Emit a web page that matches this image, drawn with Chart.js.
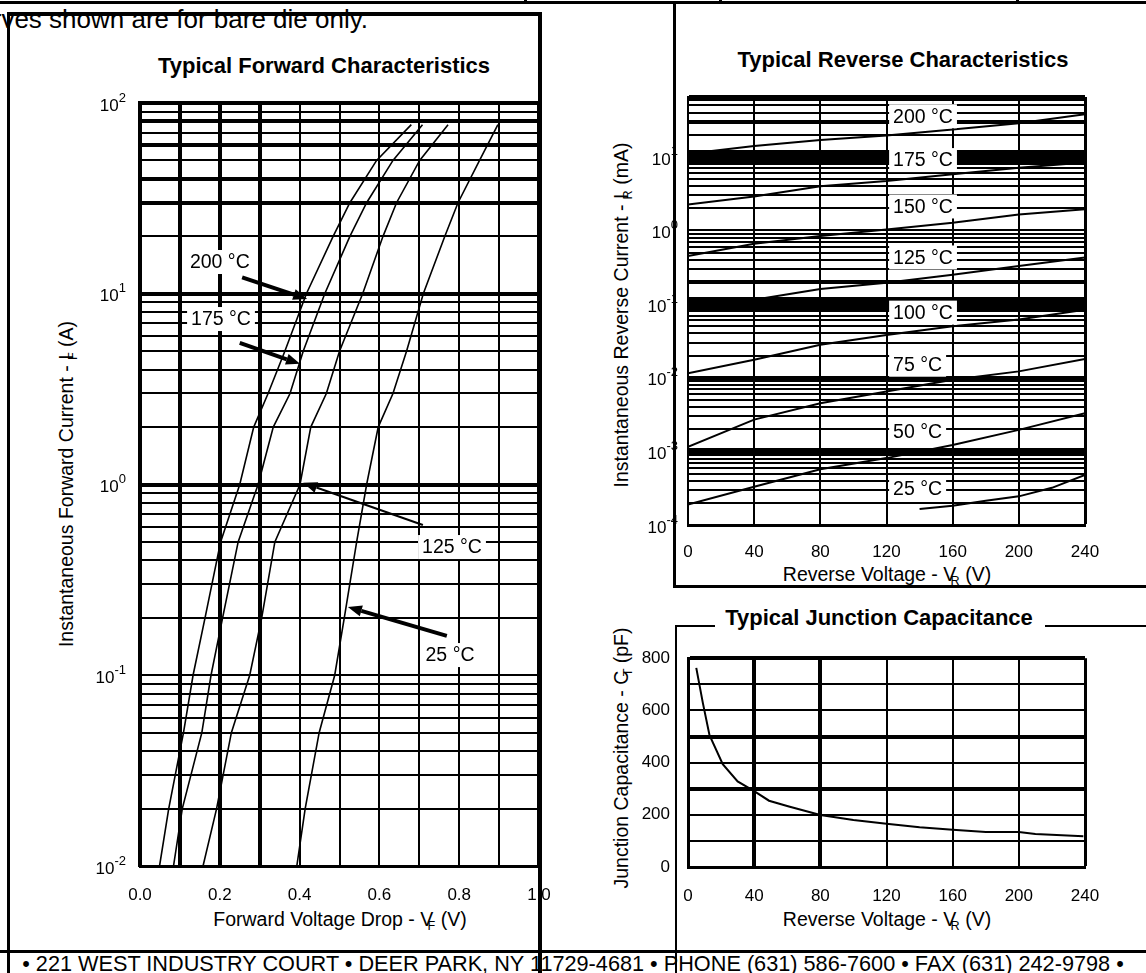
<!DOCTYPE html>
<html>
<head>
<meta charset="utf-8">
<script src="https://cdn.jsdelivr.net/npm/chart.js@4.4.1/dist/chart.umd.min.js"></script>
<style>
body{margin:0;background:#fff;width:1146px;height:973px;overflow:hidden;position:relative;font-family:"Liberation Sans",Arial,sans-serif;color:#000}
.ln{position:absolute;background:#000}
.t{position:absolute;white-space:nowrap;font-size:19.5px;line-height:1}
.ttl{font-weight:bold;font-size:22px}
.ctr{transform:translate(-50%,-50%)}
.rot{transform:translate(-50%,-50%) rotate(-90deg)}
sub{font-size:0.65em;margin-left:-0.45em;vertical-align:-0.35em;line-height:0}
canvas{position:absolute}
</style>
</head>
<body>
<!-- frame lines -->
<div class="ln" style="left:0;top:1px;width:1146px;height:3px"></div>
<div class="ln" style="left:524px;top:0;width:3px;height:4px"></div>
<div class="ln" style="left:719px;top:0;width:3px;height:4px"></div>
<div class="ln" style="left:1016px;top:0;width:3px;height:4px"></div>
<div class="ln" style="left:7px;top:12px;width:534px;height:4px"></div>
<div class="ln" style="left:7px;top:12px;width:3px;height:961px"></div>
<div class="ln" style="left:538px;top:12px;width:4px;height:961px"></div>
<div class="ln" style="left:673px;top:2px;width:3px;height:586px"></div>
<div class="ln" style="left:673px;top:585px;width:473px;height:3px"></div>
<div class="ln" style="left:675px;top:625px;width:2px;height:348px"></div>
<div class="ln" style="left:675px;top:625px;width:40px;height:2px"></div>
<div class="ln" style="left:1045px;top:625px;width:101px;height:2px"></div>
<div class="ln" style="left:0;top:950px;width:1146px;height:3px"></div>

<div class="t" style="right:778px;top:6px;font-size:26px">Curves shown are for bare die only.</div>

<div class="t ttl ctr" style="left:324px;top:66px">Typical Forward Characteristics</div>
<div class="t ttl ctr" style="left:903px;top:60px">Typical Reverse Characteristics</div>
<div class="t ttl ctr" style="left:879px;top:618px">Typical Junction Capacitance</div>

<div class="t ctr" style="left:340px;top:920px">Forward Voltage Drop - V<sub>F</sub> (V)</div>
<div class="t rot" style="left:67px;top:484px">Instantaneous Forward Current - I<sub>F</sub> (A)</div>
<div class="t ctr" style="left:887px;top:575px">Reverse Voltage - V<sub>R</sub> (V)</div>
<div class="t rot" style="left:622px;top:315px">Instantaneous Reverse Current - I<sub>R</sub> (mA)</div>
<div class="t ctr" style="left:887px;top:920px">Reverse Voltage - V<sub>R</sub> (V)</div>
<div class="t rot" style="left:622px;top:758px">Junction Capacitance - C<sub>T</sub> (pF)</div>

<div class="t ctr" style="left:573px;top:964px;font-size:21.7px">&bull; 221 WEST INDUSTRY COURT &bull; DEER PARK, NY 11729-4681 &bull; PHONE (631) 586-7600 &bull; FAX (631) 242-9798 &bull;</div>

<canvas id="fwd" width="580" height="920" style="left:0;top:30px"></canvas>
<canvas id="rev" width="546" height="560" style="left:600px;top:40px"></canvas>
<canvas id="cap" width="546" height="320" style="left:600px;top:630px"></canvas>

<script>
// forward characteristics: current (A) and voltage drop (V) per temperature
const fwdCurrent = [0.01, 0.02, 0.05, 0.1, 0.2, 0.5, 1, 2, 3, 5, 10, 20, 30, 50, 77];
const fwd200 = [0.049, 0.072, 0.109, 0.133, 0.163, 0.202, 0.25, 0.285, 0.321, 0.363, 0.417, 0.484, 0.526, 0.593, 0.68];
const fwd175 = [0.084, 0.106, 0.155, 0.178, 0.207, 0.246, 0.296, 0.334, 0.376, 0.409, 0.463, 0.526, 0.568, 0.634, 0.708];
const fwd125 = [0.158, 0.192, 0.229, 0.275, 0.305, 0.338, 0.401, 0.428, 0.467, 0.5, 0.558, 0.609, 0.643, 0.701, 0.772];
const fwd25 = [0.393, 0.414, 0.449, 0.488, 0.512, 0.543, 0.568, 0.597, 0.634, 0.668, 0.71, 0.764, 0.797, 0.851, 0.897];
const fwdXTicks = [0, 0.1, 0.2, 0.3, 0.4, 0.5, 0.6, 0.7, 0.8, 0.9, 1.0];
const fwdXLabels = ['0.0', '', '0.2', '', '0.4', '', '0.6', '', '0.8', '', '1.0'];
const fwdExps = [2, 1, 0, -1, -2];

// reverse characteristics: current (mA) vs reverse voltage (V)
const revVolts = [0, 40, 80, 120, 160, 200, 240];
const rev200 = [11, 14, 17, 19.5, 23.5, 28.5, 38];
const rev175 = [2.25, 2.9, 4.0, 4.7, 5.8, 7.1, 8.4];
const rev150 = [0.45, 0.66, 0.84, 1.03, 1.27, 1.65, 1.95];
const rev125 = [0.085, 0.115, 0.16, 0.195, 0.25, 0.33, 0.43];
const rev100 = [0.0115, 0.0175, 0.028, 0.038, 0.05, 0.062, 0.084];
const rev75 = [0.00115, 0.0027, 0.0045, 0.0065, 0.0094, 0.0122, 0.018];
const rev50 = [0.00019, 0.00033, 0.00057, 0.00081, 0.00122, 0.00196, 0.0033];
const rev25Volts = [140, 160, 180, 200, 220, 240];
const rev25 = [0.000165, 0.000183, 0.000214, 0.000245, 0.00032, 0.00048];
const revXTicks = [0, 40, 80, 120, 160, 200, 240];
const revExps = [1, 0, -1, -2, -3, -4];

// junction capacitance (pF) vs reverse voltage (V)
const capVolts = [5, 9, 13, 21, 30, 40, 49, 61, 80, 100, 120, 140, 160, 180, 200, 210, 239];
const capValues = [763, 628, 505, 394, 328, 291, 254, 232, 199, 180, 166, 152, 143, 134, 134, 126, 118];
const capYTicks = [0, 100, 200, 300, 400, 500, 600, 700, 800];
const capYLabels = ['0', '', '200', '', '400', '', '600', '', '800'];

const FONT = '"Liberation Sans", Arial, sans-serif';
Chart.defaults.font.family = FONT;
Chart.defaults.font.size = 17;
Chart.defaults.color = '#000';

function logTicks(minExp, maxExp, top) {
    const out = [];
    for (let e = minExp; e <= maxExp; e++) {
        for (let m = 1; m <= 9; m++) {
            const v = Number((m * Math.pow(10, e)).toPrecision(6));
            if (v < top) out.push(v);
        }
    }
    out.push(top);
    return out;
}
const near = (a, b) => Math.abs(a / b - 1) < 1e-6;
const pts = (xs, ys) => xs.map((x, i) => ({x: x, y: ys[i]}));
const setTicks = (list) => (s) => { s.ticks = list.map(v => ({value: v})); };

const decoPlugin = {
    id: 'deco',
    afterDatasetsDraw(chart, args, opts) {
        const ctx = chart.ctx, xs = chart.scales.x, ys = chart.scales.y;
        ctx.save();
        (opts.arrows || []).forEach(a => {
            const x1 = xs.getPixelForValue(a.from[0]), y1 = ys.getPixelForValue(a.from[1]);
            const x2 = xs.getPixelForValue(a.to[0]), y2 = ys.getPixelForValue(a.to[1]);
            const ang = Math.atan2(y2 - y1, x2 - x1);
            const hl = 14, hw = 5.5;
            const bx = x2 - hl * Math.cos(ang), by = y2 - hl * Math.sin(ang);
            ctx.strokeStyle = '#000';
            ctx.lineWidth = a.width;
            ctx.beginPath(); ctx.moveTo(x1, y1); ctx.lineTo(bx, by); ctx.stroke();
            ctx.fillStyle = '#000';
            ctx.beginPath(); ctx.moveTo(x2, y2);
            ctx.lineTo(bx + hw * Math.sin(ang), by - hw * Math.cos(ang));
            ctx.lineTo(bx - hw * Math.sin(ang), by + hw * Math.cos(ang));
            ctx.closePath(); ctx.fill();
        });
        ctx.font = '19.5px ' + FONT;
        ctx.textBaseline = 'middle';
        ctx.textAlign = 'left';
        (opts.labels || []).forEach(l => {
            const x = xs.getPixelForValue(l.x), y = ys.getPixelForValue(l.y);
            const w = ctx.measureText(l.text).width;
            const left = l.align === 'left' ? x : x - w / 2;
            ctx.fillStyle = '#fff';
            ctx.fillRect(left - 4, y - 12, w + 8, 24);
            ctx.fillStyle = '#000';
            ctx.fillText(l.text, left, y + 1);
        });
        ctx.restore();
    },
    afterDraw(chart, args, opts) {
        if (!opts.exps) return;
        const ctx = chart.ctx, ys = chart.scales.y;
        const right = chart.chartArea.left - opts.gap;
        ctx.save();
        ctx.fillStyle = '#000';
        ctx.textBaseline = 'middle';
        opts.exps.forEach(e => {
            const y = ys.getPixelForValue(Math.pow(10, e));
            const sup = String(e);
            ctx.font = '13px ' + FONT;
            const ew = ctx.measureText(sup).width;
            ctx.textAlign = 'left';
            ctx.fillText(sup, right - ew, y - 5);
            ctx.font = '17px ' + FONT;
            ctx.textAlign = 'right';
            ctx.fillText('10', right - ew, y + 3);
        });
        ctx.restore();
    }
};

function lineSet(xs, ys, w) {
    return {data: pts(xs, ys), borderColor: '#000', borderWidth: w, pointRadius: 0, tension: 0, fill: false};
}

// ---- forward chart
const fwdYTicks = logTicks(-2, 1, 100);
const fwdThickY = [100, 80, 60, 40, 30, 10, 1];
const fwdThickX = [0, 0.1, 0.2, 0.3, 1.0];
new Chart(document.getElementById('fwd'), {
    type: 'line',
    data: {
        datasets: [
            lineSet(fwd200, fwdCurrent, 1.6),
            lineSet(fwd175, fwdCurrent, 1.6),
            lineSet(fwd125, fwdCurrent, 1.6),
            lineSet(fwd25, fwdCurrent, 1.6)
        ]
    },
    options: {
        responsive: false,
        animation: false,
        layout: {padding: {left: 140, top: 73, right: 41, bottom: 24}},
        plugins: {
            legend: {display: false},
            tooltip: {enabled: false},
            deco: {
                gap: 14,
                exps: fwdExps,
                arrows: [
                    {from: [0.256, 12.2], to: [0.419, 9.39], width: 4},
                    {from: [0.25, 5.52], to: [0.401, 4.29], width: 4},
                    {from: [0.709, 0.613], to: [0.409, 1.02], width: 2},
                    {from: [0.769, 0.161], to: [0.521, 0.228], width: 4}
                ],
                labels: [
                    {text: '200 °C', x: 0.2, y: 14.67},
                    {text: '175 °C', x: 0.203, y: 7.37},
                    {text: '125 °C', x: 0.782, y: 0.47},
                    {text: '25 °C', x: 0.777, y: 0.1276}
                ]
            }
        },
        scales: {
            x: {
                type: 'linear', min: 0, max: 1,
                afterBuildTicks: setTicks(fwdXTicks),
                afterFit: (s) => { s.height = 60; },
                ticks: {padding: 19, maxRotation: 0, autoSkip: false, callback: (v, i) => fwdXLabels[i]},
                grid: {color: '#000', drawTicks: false, lineWidth: (c) => fwdThickX.some(t => Math.abs(t - c.tick.value) < 1e-6) ? 4 : 2},
                border: {display: true, color: '#000', width: 3}
            },
            y: {
                type: 'logarithmic', min: 0.01, max: 100,
                afterBuildTicks: setTicks(fwdYTicks),
                afterFit: (s) => { s.width = 0; },
                ticks: {display: false},
                grid: {color: '#000', drawTicks: false, lineWidth: (c) => fwdThickY.some(t => near(t, c.tick.value)) ? 4 : 2},
                border: {display: true, color: '#000', width: 4}
            }
        }
    },
    plugins: [decoPlugin]
});

// ---- reverse chart
const revYTicks = logTicks(-4, 1, 65).filter(v => v <= 60 || v === 65);
const revWideY = [[10, 13], [0.1, 14], [0.001, 7], [65, 4], [30, 4], [0.2, 4], [0.01, 4], [0.0001, 3]];
new Chart(document.getElementById('rev'), {
    type: 'line',
    data: {
        datasets: [
            lineSet(revVolts, rev200, 2),
            lineSet(revVolts, rev175, 2),
            lineSet(revVolts, rev150, 2),
            lineSet(revVolts, rev125, 2),
            lineSet(revVolts, rev100, 2),
            lineSet(revVolts, rev75, 2),
            lineSet(revVolts, rev50, 2),
            lineSet(rev25Volts, rev25, 2)
        ]
    },
    options: {
        responsive: false,
        animation: false,
        layout: {padding: {left: 88, top: 57, right: 61, bottom: 35}},
        plugins: {
            legend: {display: false},
            tooltip: {enabled: false},
            deco: {
                gap: 10,
                exps: revExps,
                labels: [
                    {text: '200 °C', x: 124, y: 35.6, align: 'left'},
                    {text: '175 °C', x: 124, y: 9.04, align: 'left'},
                    {text: '150 °C', x: 124, y: 2.12, align: 'left'},
                    {text: '125 °C', x: 124, y: 0.43, align: 'left'},
                    {text: '100 °C', x: 124, y: 0.0766, align: 'left'},
                    {text: '75 °C', x: 124, y: 0.01503, align: 'left'},
                    {text: '50 °C', x: 124, y: 0.00184, align: 'left'},
                    {text: '25 °C', x: 124, y: 0.00031, align: 'left'}
                ]
            }
        },
        scales: {
            x: {
                type: 'linear', min: 0, max: 240,
                afterBuildTicks: setTicks(revXTicks),
                afterFit: (s) => { s.height = 40; },
                ticks: {padding: 17, maxRotation: 0, autoSkip: false},
                grid: {color: '#000', drawTicks: false, lineWidth: (c) => c.tick.value === 240 ? 3 : 2},
                border: {display: true, color: '#000', width: 3}
            },
            y: {
                type: 'logarithmic', min: 0.0001, max: 65,
                afterBuildTicks: setTicks(revYTicks),
                afterFit: (s) => { s.width = 0; },
                ticks: {display: false},
                grid: {color: '#000', drawTicks: false, lineWidth: (c) => {
                    const hit = revWideY.find(p => near(p[0], c.tick.value));
                    return hit ? hit[1] : 2;
                }},
                border: {display: true, color: '#000', width: 2}
            }
        }
    },
    plugins: [decoPlugin]
});

// ---- capacitance chart
const capThickY = [800, 500, 300];
const capThickX = [40, 80];
new Chart(document.getElementById('cap'), {
    type: 'line',
    data: {datasets: [lineSet(capVolts, capValues, 2)]},
    options: {
        responsive: false,
        animation: false,
        layout: {padding: {left: 0, top: 20, right: 61, bottom: 43}},
        plugins: {legend: {display: false}, tooltip: {enabled: false}},
        scales: {
            x: {
                type: 'linear', min: 0, max: 240,
                afterBuildTicks: setTicks(revXTicks),
                afterFit: (s) => { s.height = 40; },
                ticks: {padding: 19, maxRotation: 0, autoSkip: false},
                grid: {color: '#000', drawTicks: false, lineWidth: (c) => capThickX.includes(c.tick.value) ? 4 : (c.tick.value === 240 ? 3 : 2)},
                border: {display: true, color: '#000', width: 3}
            },
            y: {
                type: 'linear', min: 0, max: 800,
                afterBuildTicks: setTicks(capYTicks),
                afterFit: (s) => { s.width = 88; },
                ticks: {padding: 18, autoSkip: false, callback: (v, i) => capYLabels[i]},
                grid: {color: '#000', drawTicks: false, lineWidth: (c) => capThickY.includes(c.tick.value) ? 4 : 2},
                border: {display: true, color: '#000', width: 3}
            }
        }
    }
});
</script>
</body>
</html>
